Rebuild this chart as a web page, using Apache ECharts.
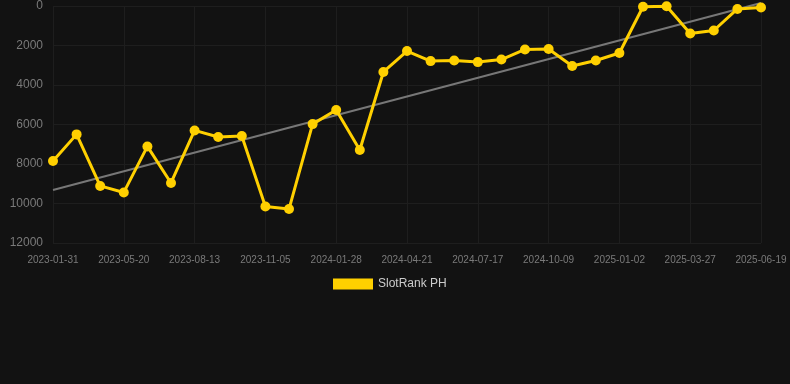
<!DOCTYPE html>
<html>
<head>
<meta charset="utf-8">
<script src="https://cdn.jsdelivr.net/npm/echarts@6/dist/echarts.min.js"></script>
<style>
html,body{margin:0;padding:0;background:#121212;}
#chart{width:790px;height:384px;}
</style>
</head>
<body>
<div id="chart"></div>
<script>
const dates = ['2023-01-31','2023-03-08','2023-04-14','2023-05-20','2023-06-17','2023-07-15','2023-08-13','2023-09-10','2023-10-08','2023-11-05','2023-12-03','2023-12-31','2024-01-28','2024-02-25','2024-03-24','2024-04-21','2024-05-19','2024-06-18','2024-07-17','2024-08-14','2024-09-11','2024-10-09','2024-11-06','2024-12-05','2025-01-02','2025-01-31','2025-02-27','2025-03-27','2025-04-24','2025-05-22','2025-06-19'];
const rankPH = [7850,6500,9110,9440,7110,8960,6300,6630,6580,10150,10280,5980,5270,7290,3340,2280,2790,2760,2840,2710,2200,2180,3040,2760,2380,40,10,1390,1240,150,80];
const trendStart = 9320;
const trendEnd = -150;
const yTicks = [0,2000,4000,6000,8000,10000,12000];

const chart = echarts.init(document.getElementById('chart'));
chart.setOption({
  backgroundColor:'#121212',
  animation:false,
  grid:{left:53,right:29,top:6,bottom:141,containLabel:false},
  legend:{
    data:['SlotRank PH'],
    bottom:89,
    left:328,
    itemWidth:40,itemHeight:11,itemGap:10,
    icon:'rect',
    textStyle:{color:'#cccccc',fontSize:12,padding:[0,0,0,0],fontFamily:'Liberation Sans, Arial, sans-serif'}
  },
  xAxis:{
    type:'category',
    data:dates,
    boundaryGap:false,
    axisLine:{show:false},
    axisTick:{show:true,interval:2,length:6,lineStyle:{color:'#1e1e1e'}},
    axisLabel:{interval:2,color:'#7a7a7a',fontSize:10,margin:12,fontFamily:'Liberation Sans, Arial, sans-serif'},
    splitLine:{show:true,interval:2,lineStyle:{color:'#1e1e1e',width:1}}
  },
  yAxis:{
    type:'value',
    inverse:true,
    min:yTicks[0],
    max:yTicks[yTicks.length-1],
    interval:2000,
    axisLine:{show:false},
    axisTick:{show:false},
    axisLabel:{color:'#7a7a7a',fontSize:12,margin:10,formatter:function(v){return String(v);},fontFamily:'Liberation Sans, Arial, sans-serif'},
    splitLine:{lineStyle:{color:'#1e1e1e',width:1}}
  },
  series:[
    {
      name:'trend',
      type:'line',
      data:[[0,trendStart],[dates.length-1,trendEnd]],
      symbol:'none',
      clip:false,
      lineStyle:{color:'#777777',width:2},
      z:1,
      silent:true
    },
    {
      name:'SlotRank PH',
      type:'line',
      data:rankPH,
      symbol:'circle',
      symbolSize:10,
      itemStyle:{color:'#FFD000'},
      lineStyle:{color:'#FFD000',width:3},
      z:3
    }
  ]
});
</script>
</body>
</html>
